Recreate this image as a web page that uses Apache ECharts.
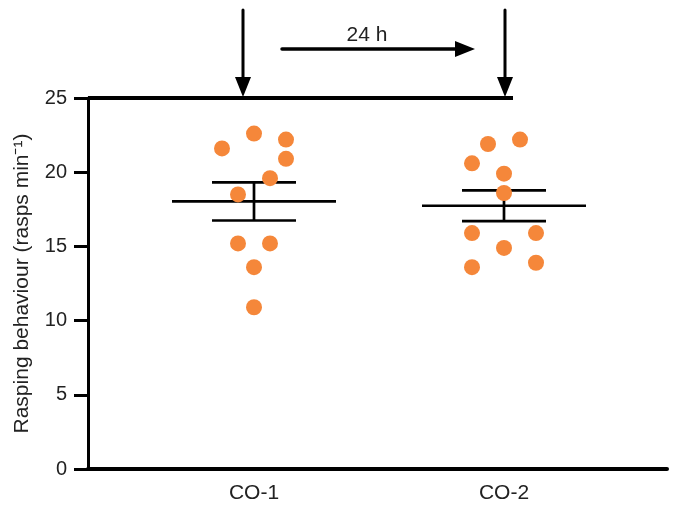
<!DOCTYPE html>
<html>
<head>
<meta charset="utf-8">
<script src="https://cdn.jsdelivr.net/npm/echarts@6/dist/echarts.min.js"></script>
<style>
html,body{margin:0;padding:0;background:#fff;}
#chart{width:674px;height:505px;}
</style>
</head>
<body>
<div id="chart"></div>
<script>
const categories = ['CO-1', 'CO-2'];
const co1Values = [22.6, 21.6, 22.2, 20.9, 19.6, 18.5, 15.2, 15.2, 13.6, 10.9];
const co2Values = [21.9, 22.2, 20.6, 19.9, 18.6, 15.9, 15.9, 14.9, 13.6, 13.9];
const co1Jitter = [0, -2, 2, 2, 1, -1, -1, 1, 0, 0];
const co2Jitter = [-1, 1, -2, 0, 0, -2, 2, 0, -2, 2];
const yTicks = [0, 5, 10, 15, 20, 25];
const yTitle = 'Rasping behaviour (rasps min\u207B\u00B9)';
const intervalLabel = '24 h';

const FONT = '"Liberation Sans", Arial, sans-serif';
const ORANGE = '#F5873A';
const JIT = 0.064;
const X_MIN = 0.336, X_MAX = 2.652;

function stats(v) {
  const n = v.length;
  const m = v.reduce((a, b) => a + b, 0) / n;
  const sd = Math.sqrt(v.reduce((a, b) => a + (b - m) * (b - m), 0) / (n - 1));
  return [m, sd / Math.sqrt(n)];
}
const groups = [co1Values, co2Values];
const jitters = [co1Jitter, co2Jitter];
const summary = groups.map((v, i) => { const s = stats(v); return [i + 1, s[0], s[1]]; });
const points = [];
groups.forEach((v, i) => v.forEach((y, k) => points.push([i + 1 + jitters[i][k] * JIT, y])));

const chart = echarts.init(document.getElementById('chart'));
chart.setOption({
  animation: false,
  backgroundColor: '#fff',
  grid: { left: 88, right: 7, top: 98, bottom: 36 },
  xAxis: {
    type: 'value', min: X_MIN, max: X_MAX,
    splitLine: { show: false },
    axisLine: { show: true, onZero: false, lineStyle: { color: '#000', width: 4 } },
    axisTick: { show: false },
    axisLabel: {
      customValues: [1, 2],
      formatter: v => categories[Math.round(v) - 1] || '',
      color: '#222', fontSize: 21, fontFamily: FONT, margin: 14
    }
  },
  yAxis: {
    type: 'value', min: 0, max: 25, interval: 5,
    splitLine: { show: false },
    axisLine: { show: true, lineStyle: { color: '#000', width: 3 } },
    axisTick: { show: true, length: 14, lineStyle: { color: '#000', width: 3 } },
    axisLabel: {
      color: '#222', fontSize: 20, fontFamily: FONT, margin: 21,
      formatter: v => yTicks.includes(v) ? String(v) : ''
    },
    name: yTitle, nameLocation: 'middle', nameGap: 55, nameRotate: 90,
    nameTextStyle: { color: '#222', fontSize: 21, fontFamily: FONT }
  },
  series: [
    {
      type: 'custom', z: 2, clip: false,
      data: summary,
      renderItem: function (params, api) {
        const x = api.value(0), m = api.value(1), s = api.value(2);
        const pL = api.coord([x - 0.328, m]), pR = api.coord([x + 0.328, m]);
        const cT1 = api.coord([x - 0.168, m + s]), cT2 = api.coord([x + 0.168, m + s]);
        const cB1 = api.coord([x - 0.168, m - s]), cB2 = api.coord([x + 0.168, m - s]);
        const vT = api.coord([x, m + s]), vB = api.coord([x, m - s]);
        const st = { stroke: '#000', lineWidth: 2.7 };
        return {
          type: 'group',
          children: [
            { type: 'line', shape: { x1: pL[0], y1: pL[1], x2: pR[0], y2: pR[1] }, style: st },
            { type: 'line', shape: { x1: cT1[0], y1: cT1[1], x2: cT2[0], y2: cT2[1] }, style: st },
            { type: 'line', shape: { x1: cB1[0], y1: cB1[1], x2: cB2[0], y2: cB2[1] }, style: st },
            { type: 'line', shape: { x1: vT[0], y1: vT[1], x2: vB[0], y2: vB[1] }, style: st }
          ]
        };
      }
    },
    {
      type: 'scatter', z: 5,
      data: points,
      symbol: 'circle', symbolSize: 16,
      itemStyle: { color: ORANGE, opacity: 1 },
      markLine: {
        silent: true, symbol: ['none', 'none'], animation: false,
        label: { show: false },
        lineStyle: { color: '#000', width: 4, type: 'solid' },
        data: [[{ coord: [X_MIN, 25] }, { coord: [2.036, 25] }]]
      }
    }
  ],
  graphic: [
    { type: 'line', shape: { x1: 243, y1: 10, x2: 243, y2: 82 }, style: { stroke: '#000', lineWidth: 3, lineCap: 'round' } },
    { type: 'polygon', shape: { points: [[235, 77], [251, 77], [243, 97]] }, style: { fill: '#000' } },
    { type: 'line', shape: { x1: 505, y1: 10, x2: 505, y2: 82 }, style: { stroke: '#000', lineWidth: 3, lineCap: 'round' } },
    { type: 'polygon', shape: { points: [[497, 77], [513, 77], [505, 97]] }, style: { fill: '#000' } },
    { type: 'line', shape: { x1: 282, y1: 49, x2: 460, y2: 49 }, style: { stroke: '#000', lineWidth: 3.5, lineCap: 'round' } },
    { type: 'polygon', shape: { points: [[455, 41], [455, 57], [475, 49]] }, style: { fill: '#000' } },
    { type: 'text', x: 367, y: 35, style: { text: intervalLabel, fill: '#222', fontSize: 21, fontFamily: FONT, align: 'center', verticalAlign: 'middle' } }
  ]
});
</script>
</body>
</html>
